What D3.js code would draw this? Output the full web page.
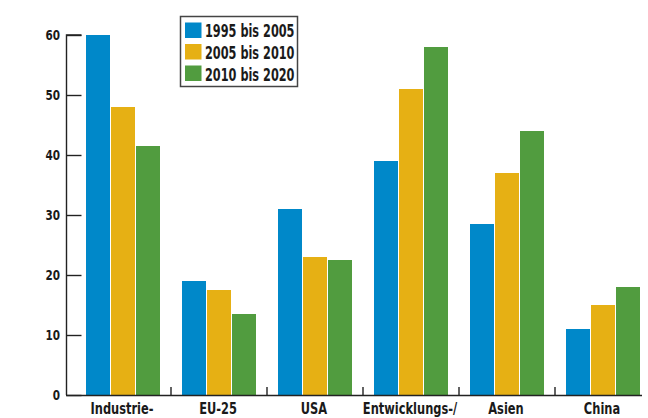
<!DOCTYPE html>
<html><head><meta charset="utf-8">
<script src="https://cdn.jsdelivr.net/npm/d3@7"></script>
<style>
html,body{margin:0;padding:0;background:#fff;}
svg{display:block;}
text{font-family:"Liberation Sans Narrow","DejaVu Sans Condensed","Roboto",sans-serif;font-weight:bold;fill:#1a1a1a;}
</style></head>
<body><svg id="c" width="648" height="418"></svg>
<script>
const categories = ["Industrie-", "EU-25", "USA", "Entwicklungs-/", "Asien", "China"];
const seriesNames = ["1995 bis 2005", "2005 bis 2010", "2010 bis 2020"];
const s1995 = [60, 19, 31, 39, 28.5, 11];
const s2005 = [48, 17.5, 23, 51, 37, 15];
const s2010 = [41.5, 13.5, 22.5, 58, 44, 18];
const yTicks = [0, 10, 20, 30, 40, 50, 60];
const colors = ["#0088c9", "#e6b014", "#519c3f"];

const series = [s1995, s2005, s2010];
const svg = d3.select("#c");
const x0 = d3.scaleBand().domain(categories).range([75, 651]).paddingInner(0).paddingOuter(0);
const x1 = d3.scaleBand().domain(d3.range(3)).range([10.5, 85.5]).padding(0);
const y = d3.scaleLinear().domain([0, 60]).range([395, 35]);

// bars
categories.forEach((c, i) => {
  const g = svg.append("g").attr("transform", `translate(${x0(c)},0)`);
  series.forEach((s, k) => {
    g.append("rect")
      .attr("x", x1(k) + 0.5)
      .attr("width", x1.bandwidth() - 1)
      .attr("y", y(s[i]))
      .attr("height", y(0) - y(s[i]))
      .attr("fill", colors[k]);
  });
});

// y axis
const yAxis = svg.append("g").attr("transform", "translate(66.5,0)")
  .call(d3.axisRight(y).tickValues(yTicks).tickSize(15).tickFormat(""));
yAxis.select(".domain").attr("d", `M15,${y(60)}H0V${y(0)}`).attr("stroke", "#222").attr("stroke-width", 1.4);
yAxis.selectAll(".tick line").attr("stroke", "#222").attr("stroke-width", 1.4);
svg.append("g").selectAll("text").data(yTicks).join("text")
  .attr("transform", d => `translate(60,${y(d)}) scale(0.8,1)`).attr("dy", "0.36em")
  .attr("text-anchor", "end").style("font-size", "14.5px").text(d => d);

// x axis
const xAxis = svg.append("g").attr("transform", "translate(0,395.5)")
  .call(d3.axisTop(x0).tickSize(0).tickFormat(""));
xAxis.select(".domain").attr("d", "M66,0H642").attr("stroke", "#222").attr("stroke-width", 1.4);
xAxis.selectAll(".tick").remove();
svg.append("g").selectAll("line").data(categories.slice(1)).join("line")
  .attr("x1", d => x0(d)).attr("x2", d => x0(d))
  .attr("y1", 387).attr("y2", 395.5).attr("stroke", "#222").attr("stroke-width", 1.4);
svg.append("g").selectAll("text").data(categories).join("text")
  .attr("transform", d => `translate(${x0(d) + x0.bandwidth() / 2 - 1},413.5) scale(0.77,1)`)
  .attr("text-anchor", "middle").style("font-size", "16.5px").text(d => d);

// legend
const lg = svg.append("g").attr("transform", "translate(180,16)");
lg.append("rect").attr("x", 0.5).attr("y", 0.5).attr("width", 117).attr("height", 70)
  .attr("fill", "#fff").attr("stroke", "#444").attr("stroke-width", 1.5);
seriesNames.forEach((n, k) => {
  lg.append("rect").attr("x", 5).attr("y", 6.5 + k * 21.5).attr("width", 16.5).attr("height", 15.5).attr("fill", colors[k]);
  lg.append("text").attr("transform", `translate(25,${14.5 + k * 22}) scale(0.74,1)`).attr("dy", "0.36em")
    .style("font-size", "17px").text(n);
});
</script></body></html>
